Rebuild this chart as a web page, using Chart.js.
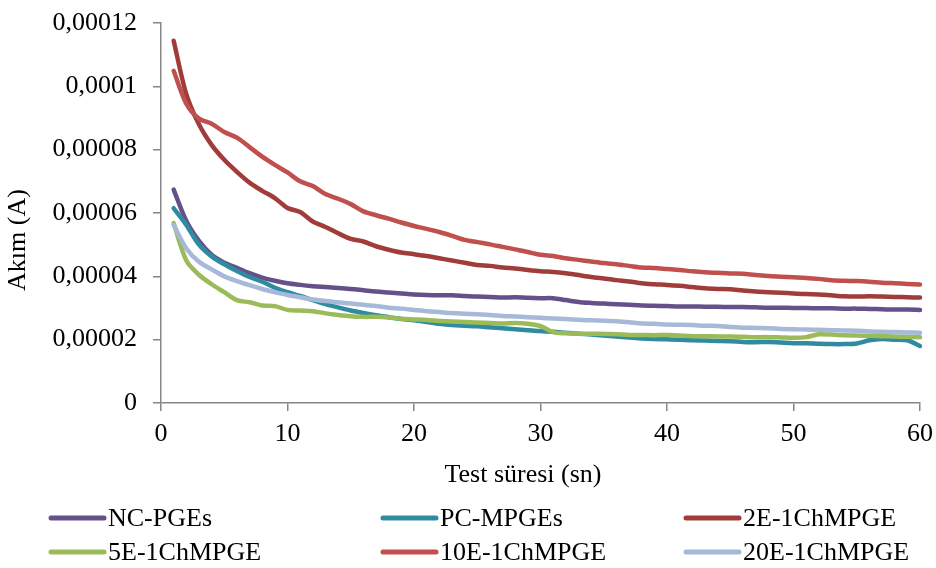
<!DOCTYPE html>
<html>
<head>
<meta charset="utf-8">
<script src="https://cdn.jsdelivr.net/npm/chart.js@4.4.1/dist/chart.umd.min.js"></script>
<style>
  html, body { margin: 0; padding: 0; background: #ffffff; }
  #wrap { width: 936px; height: 568px; position: relative; }
</style>
</head>
<body>
<div id="wrap"><canvas id="chartAkim"></canvas></div>
<script>
// Test süresi (sn) — one reading per second
var times = [];
for (var t = 1; t <= 60; t++) times.push(t);

// Akım values, in µA (axis labels show A)
var ncPGEs = [67.4, 57.5, 51.2, 46.8, 44.3, 42.7, 41.0, 39.6, 38.6, 37.8,
              37.3, 36.9, 36.6, 36.3, 36.0, 35.6, 35.2, 34.9, 34.6, 34.3,
              34.1, 34.0, 34.0, 33.8, 33.6, 33.5, 33.3, 33.4, 33.2, 33.1,
              33.1, 32.5, 31.9, 31.6, 31.4, 31.2, 31.0, 30.8, 30.7, 30.6,
              30.5, 30.5, 30.4, 30.4, 30.3, 30.3, 30.2, 30.1, 30.1, 30.0,
              30.0, 29.9, 29.9, 29.8, 29.8, 29.7, 29.6, 29.5, 29.5, 29.4];
var pcMPGEs = [61.5, 56.2, 50.0, 46.3, 43.8, 41.7, 39.8, 38.3, 36.4, 35.0,
               33.8, 32.5, 31.2, 30.2, 29.2, 28.4, 27.7, 27.1, 26.5, 26.1,
               25.6, 25.0, 24.6, 24.4, 24.2, 23.9, 23.6, 23.3, 23.0, 22.7,
               22.5, 22.2, 21.9, 21.6, 21.3, 21.0, 20.7, 20.4, 20.2, 20.1,
               20.0, 19.8, 19.7, 19.6, 19.5, 19.3, 19.2, 19.3, 19.1, 18.9,
               18.9, 18.7, 18.6, 18.6, 18.8, 19.8, 20.2, 20.0, 19.8, 18.0];
var e2ChMPGE = [114.4, 97.5, 88.0, 81.5, 76.8, 73.0, 69.6, 67.0, 64.7, 61.6,
                60.3, 57.3, 55.6, 53.6, 51.8, 51.0, 49.5, 48.4, 47.5, 47.0,
                46.4, 45.7, 45.0, 44.3, 43.6, 43.3, 42.8, 42.5, 42.0, 41.6,
                41.4, 41.0, 40.4, 39.8, 39.3, 38.8, 38.4, 37.8, 37.5, 37.3,
                37.0, 36.6, 36.2, 36.0, 35.9, 35.5, 35.2, 35.0, 34.8, 34.6,
                34.4, 34.3, 34.0, 33.7, 33.6, 33.7, 33.6, 33.5, 33.4, 33.3];
var e5ChMPGE = [56.8, 45.0, 40.5, 37.5, 35.0, 32.5, 31.8, 30.8, 30.6, 29.4,
                29.2, 29.0, 28.3, 27.8, 27.4, 27.2, 27.2, 27.0, 26.6, 26.4,
                26.2, 25.9, 25.7, 25.6, 25.4, 25.3, 25.1, 25.3, 25.0, 24.3,
                22.4, 22.0, 21.9, 21.9, 21.8, 21.7, 21.5, 21.5, 21.4, 21.5,
                21.3, 21.1, 21.1, 21.0, 21.0, 20.9, 20.8, 20.8, 20.7, 20.6,
                20.8, 21.7, 21.6, 21.4, 21.3, 21.2, 21.1, 21.0, 20.9, 20.8];
var e10ChMPGE = [104.9, 94.5, 89.8, 88.2, 85.6, 83.8, 80.8, 77.8, 75.2, 72.8,
                 70.0, 68.5, 66.0, 64.5, 62.8, 60.5, 59.3, 58.2, 57.0, 55.9,
                 55.0, 54.0, 52.8, 51.5, 50.8, 50.1, 49.3, 48.5, 47.7, 46.8,
                 46.4, 45.7, 45.2, 44.7, 44.2, 43.8, 43.3, 42.8, 42.6, 42.3,
                 42.0, 41.6, 41.3, 41.1, 40.9, 40.8, 40.4, 40.1, 39.9, 39.7,
                 39.5, 39.2, 38.8, 38.6, 38.5, 38.3, 38.0, 37.8, 37.6, 37.4];
var e20ChMPGE = [56.2, 48.8, 44.6, 42.2, 40.0, 38.5, 37.2, 36.0, 35.0, 34.1,
                 33.4, 32.7, 32.2, 31.8, 31.4, 31.0, 30.6, 30.1, 29.8, 29.4,
                 29.0, 28.7, 28.4, 28.2, 28.0, 27.8, 27.5, 27.3, 27.1, 26.9,
                 26.7, 26.5, 26.3, 26.1, 26.0, 25.8, 25.5, 25.1, 25.0, 24.8,
                 24.7, 24.6, 24.4, 24.3, 24.0, 23.8, 23.7, 23.6, 23.4, 23.3,
                 23.2, 23.1, 23.0, 22.9, 22.8, 22.6, 22.5, 22.4, 22.3, 22.2];

var seriesNames = ['NC-PGEs', 'PC-MPGEs', '2E-1ChMPGE', '5E-1ChMPGE', '10E-1ChMPGE', '20E-1ChMPGE'];
var seriesValues = [ncPGEs, pcMPGEs, e2ChMPGE, e5ChMPGE, e10ChMPGE, e20ChMPGE];
var seriesColors = ['#65508a', '#2e8ba0', '#a03d3a', '#9bbb59', '#c0504d', '#a7b9d9'];

var yTickLabels = ['0', '0,00002', '0,00004', '0,00006', '0,00008', '0,0001', '0,00012'];
var xTitle = 'Test süresi (sn)';
var yTitle = 'Akım (A)';

var FONT = "'Liberation Serif', 'Times New Roman', serif";

// legend + axis titles, Excel style
var excelDecor = {
    id: 'excelDecor',
    afterDraw: function(chart) {
        var ctx = chart.ctx;
        ctx.save();
        ctx.fillStyle = '#000';
        ctx.font = '26px ' + FONT;
        ctx.textAlign = 'center';
        ctx.textBaseline = 'middle';
        ctx.fillText(xTitle, 523, 475);

        ctx.save();
        ctx.translate(18, 240);
        ctx.rotate(-Math.PI / 2);
        ctx.fillText(yTitle, 0, 0);
        ctx.restore();

        var colX = [51, 383, 686];
        var rowY = [518, 552];
        ctx.textAlign = 'left';
        chart.data.datasets.forEach(function(ds, i) {
            var x = colX[i % 3];
            var y = rowY[Math.floor(i / 3)];
            ctx.strokeStyle = ds.borderColor;
            ctx.lineWidth = 5;
            ctx.lineCap = 'round';
            ctx.beginPath();
            ctx.moveTo(x, y);
            ctx.lineTo(x + 53, y);
            ctx.stroke();
            ctx.fillText(ds.label, x + 57, y + 1);
        });
        ctx.restore();
    }
};

document.addEventListener('DOMContentLoaded', function() {
    var datasets = seriesNames.map(function(name, i) {
        return {
            label: name,
            data: times.map(function(t, k) { return { x: t, y: seriesValues[i][k] }; }),
            borderColor: seriesColors[i],
            backgroundColor: seriesColors[i],
            borderWidth: 4.5,
            borderCapStyle: 'round',
            borderJoinStyle: 'round',
            pointRadius: 0,
            tension: 0.3,
            fill: false,
            clip: false,
            order: seriesNames.length - i
        };
    });

    new Chart(document.getElementById('chartAkim').getContext('2d'), {
        type: 'line',
        data: { datasets: datasets },
        plugins: [excelDecor],
        options: {
            responsive: true,
            maintainAspectRatio: false,
            animation: false,
            layout: { padding: { left: 0, right: 16, top: 23, bottom: 0 } },
            plugins: {
                legend: { display: false },
                tooltip: { enabled: false }
            },
            scales: {
                x: {
                    type: 'linear',
                    min: 0,
                    max: 60,
                    ticks: {
                        stepSize: 10,
                        color: '#000',
                        padding: 8,
                        maxRotation: 0,
                        font: { family: FONT, size: 26 }
                    },
                    grid: { drawOnChartArea: false, tickLength: 8, color: '#868686', lineWidth: 1.5 },
                    border: { color: '#868686', width: 1.5 },
                    afterFit: function(scale) {
                        scale.height = 165;
                        scale.paddingLeft = 0;
                        scale.paddingRight = 0;
                    }
                },
                y: {
                    min: 0,
                    max: 120,
                    ticks: {
                        stepSize: 20,
                        color: '#000',
                        padding: 16,
                        font: { family: FONT, size: 26 },
                        callback: function(value, index) { return yTickLabels[index]; }
                    },
                    grid: { drawOnChartArea: false, tickLength: 8, color: '#868686', lineWidth: 1.5 },
                    border: { color: '#868686', width: 1.5 },
                    afterFit: function(scale) {
                        scale.width = 161;
                        scale.paddingTop = 0;
                        scale.paddingBottom = 0;
                    }
                }
            }
        }
    });
});
</script>
</body>
</html>
